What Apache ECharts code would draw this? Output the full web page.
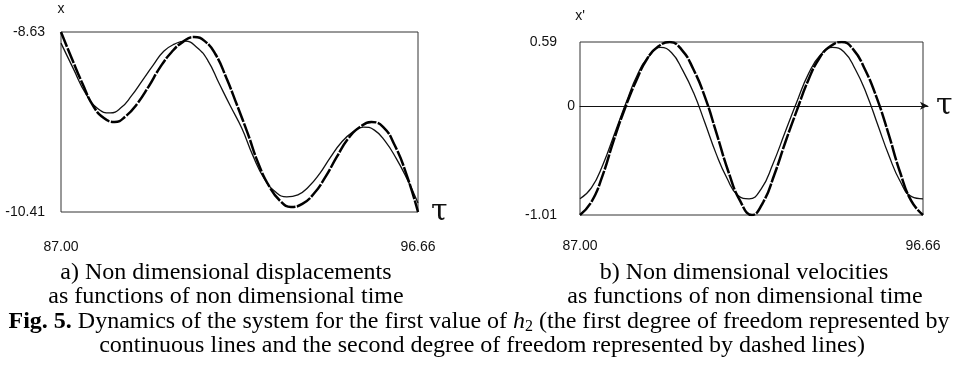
<!DOCTYPE html>
<html>
<head>
<meta charset="utf-8">
<script src="https://cdn.jsdelivr.net/npm/echarts@6/dist/echarts.min.js"></script>
<style>
  html, body { margin: 0; padding: 0; background: #fff; }
  #chart { width: 957px; height: 383px; }
</style>
</head>
<body>
<div id="chart"></div>
<script>
// tick labels
const timeTicks = [87.00, 96.66];
const dispTicks = [-10.41, -8.63];
const velTicks = [-1.01, 0.59];

// a) displacements, first degree of freedom (continuous line)
const dispFirstTau = [87.00, 87.33, 87.67, 88.00, 88.33, 88.62, 88.91, 89.20, 89.49, 89.78, 90.07, 90.36, 90.67, 90.97, 91.28, 91.58, 91.89, 92.19, 92.50, 92.80, 93.11, 93.41, 93.70, 94.00, 94.29, 94.59, 94.89, 95.18, 95.48, 95.77, 96.07, 96.36, 96.66];
const dispFirst = [-8.74, -8.99, -9.24, -9.39, -9.43, -9.38, -9.26, -9.11, -8.96, -8.82, -8.75, -8.72, -8.78, -8.91, -9.14, -9.36, -9.58, -9.85, -10.08, -10.21, -10.26, -10.24, -10.16, -10.03, -9.87, -9.72, -9.62, -9.57, -9.60, -9.71, -9.88, -10.08, -10.32];

// a) displacements, second degree of freedom (dashed line)
const dispSecondTau = [87.00, 87.29, 87.58, 87.87, 88.16, 88.45, 88.76, 89.06, 89.37, 89.68, 89.99, 90.29, 90.60, 90.89, 91.18, 91.47, 91.76, 92.05, 92.34, 92.64, 92.93, 93.22, 93.53, 93.84, 94.16, 94.47, 94.78, 95.09, 95.40, 95.72, 96.03, 96.35, 96.66];
const dispSecond = [-8.63, -8.89, -9.14, -9.36, -9.48, -9.52, -9.46, -9.34, -9.17, -8.98, -8.83, -8.73, -8.68, -8.72, -8.85, -9.08, -9.35, -9.63, -9.93, -10.16, -10.30, -10.36, -10.33, -10.23, -10.06, -9.86, -9.68, -9.57, -9.52, -9.57, -9.75, -10.04, -10.41];

// b) velocities, first degree of freedom (continuous line)
const velFirstTau = [87.00, 87.32, 87.65, 87.97, 88.30, 88.62, 88.95, 89.27, 89.58, 89.89, 90.20, 90.51, 90.83, 91.14, 91.45, 91.76, 92.10, 92.43, 92.77, 93.10, 93.44, 93.77, 94.11, 94.43, 94.75, 95.07, 95.39, 95.70, 96.02, 96.34, 96.66];
const velFirst = [-0.86, -0.76, -0.54, -0.26, 0.03, 0.29, 0.46, 0.54, 0.49, 0.33, 0.12, -0.15, -0.44, -0.67, -0.83, -0.86, -0.77, -0.54, -0.25, 0.03, 0.30, 0.47, 0.54, 0.50, 0.34, 0.11, -0.18, -0.46, -0.70, -0.84, -0.86];

// b) velocities, second degree of freedom (dashed line)
const velSecondTau = [87.00, 87.32, 87.63, 87.95, 88.27, 88.58, 88.90, 89.21, 89.53, 89.86, 90.19, 90.52, 90.85, 91.18, 91.51, 91.84, 92.16, 92.47, 92.79, 93.11, 93.42, 93.74, 94.05, 94.37, 94.70, 95.02, 95.35, 95.68, 96.01, 96.33, 96.66];
const velSecond = [-1.01, -0.89, -0.65, -0.32, -0.02, 0.23, 0.44, 0.55, 0.59, 0.52, 0.34, 0.08, -0.26, -0.61, -0.88, -1.01, -0.89, -0.64, -0.33, -0.04, 0.23, 0.44, 0.55, 0.59, 0.52, 0.34, 0.08, -0.25, -0.61, -0.88, -1.01];

const pairs = (xs, ys) => xs.map((x, i) => [x, ys[i]]);

const chart = echarts.init(document.getElementById('chart'), null, { renderer: 'canvas' });

const tickFont = { fontFamily: 'Liberation Sans', fontSize: 14, color: '#111' };
const tauName = { fontFamily: 'DejaVu Serif', fontSize: 30, color: '#111' };
const capFont = '24px "Liberation Serif"';

const timeAxis = (gridIndex, margin) => ({
    type: 'value',
    gridIndex: gridIndex,
    min: timeTicks[0],
    max: timeTicks[1],
    axisLine: { show: false },
    axisTick: { show: false },
    splitLine: { show: false },
    axisLabel: {
        ...tickFont,
        margin: margin,
        customValues: timeTicks,
        formatter: (v) => v.toFixed(2),
    },
    name: gridIndex === 0 ? 'τ' : '',
    nameLocation: 'end',
    nameGap: 13,
    nameTextStyle: tauName,
});

const solidStyle = { color: '#111', width: 1.3 };
const dashedStyle = { color: '#000', width: 2.5, type: [16, 1.5] };

const option = {
    animation: false,
    backgroundColor: '#fff',
    grid: [
        { left: 61, top: 32, width: 357, height: 180, show: true, borderColor: '#333', borderWidth: 1 },
        { left: 580, top: 42, width: 343, height: 173, show: true, borderColor: '#333', borderWidth: 1 },
        // zero line with arrow for the velocity plot
        { left: 580, top: 42, width: 348, height: 173, show: false },
    ],
    xAxis: [
        timeAxis(0, 28),
        timeAxis(1, 24),
        {
            type: 'value',
            gridIndex: 2,
            min: 0,
            max: 1,
            axisLine: {
                show: true,
                onZero: true,
                symbol: ['none', 'arrow'],
                symbolSize: [6, 8],
                lineStyle: { color: '#111', width: 1 },
            },
            axisTick: { show: false },
            axisLabel: { show: false },
            splitLine: { show: false },
            name: 'τ',
            nameLocation: 'end',
            nameGap: 8,
            nameTextStyle: tauName,
        },
    ],
    yAxis: [
        {
            type: 'value',
            gridIndex: 0,
            min: dispTicks[0],
            max: dispTicks[1],
            axisLine: { show: false },
            axisTick: { show: false },
            splitLine: { show: false },
            axisLabel: { ...tickFont, margin: 16, customValues: dispTicks, formatter: (v) => v.toFixed(2) },
            name: 'x',
            nameLocation: 'end',
            nameGap: 16,
            nameTextStyle: tickFont,
        },
        {
            type: 'value',
            gridIndex: 1,
            min: velTicks[0],
            max: velTicks[1],
            axisLine: { show: false },
            axisTick: { show: false },
            splitLine: { show: false },
            axisLabel: { ...tickFont, margin: 23, customValues: velTicks, formatter: (v) => v.toFixed(2) },
            name: "x'",
            nameLocation: 'end',
            nameGap: 19,
            nameTextStyle: tickFont,
        },
        {
            type: 'value',
            gridIndex: 2,
            min: velTicks[0],
            max: velTicks[1],
            axisLine: { show: false },
            axisTick: { show: false },
            splitLine: { show: false },
            axisLabel: { ...tickFont, margin: 5, customValues: [0], formatter: () => '0' },
        },
    ],
    series: [
        {
            type: 'line', xAxisIndex: 0, yAxisIndex: 0,
            data: pairs(dispFirstTau, dispFirst),
            showSymbol: false, smooth: 0.5,
            lineStyle: solidStyle,
        },
        {
            type: 'line', xAxisIndex: 0, yAxisIndex: 0,
            data: pairs(dispSecondTau, dispSecond),
            showSymbol: false, smooth: 0.5,
            lineStyle: dashedStyle,
        },
        {
            type: 'line', xAxisIndex: 1, yAxisIndex: 1,
            data: pairs(velFirstTau, velFirst),
            showSymbol: false, smooth: 0.5,
            lineStyle: solidStyle,
        },
        {
            type: 'line', xAxisIndex: 1, yAxisIndex: 1,
            data: pairs(velSecondTau, velSecond),
            showSymbol: false, smooth: 0.5,
            lineStyle: dashedStyle,
        },
    ],
    graphic: [
        { type: 'text', x: 226, y: 273, style: { text: 'a) Non dimensional displacements', font: capFont, fill: '#000', align: 'center', verticalAlign: 'middle' } },
        { type: 'text', x: 226, y: 297, style: { text: 'as functions of non dimensional time', font: capFont, fill: '#000', align: 'center', verticalAlign: 'middle' } },
        { type: 'text', x: 744, y: 273, style: { text: 'b) Non dimensional velocities', font: capFont, fill: '#000', align: 'center', verticalAlign: 'middle' } },
        { type: 'text', x: 745, y: 297, style: { text: 'as functions of non dimensional time', font: capFont, fill: '#000', align: 'center', verticalAlign: 'middle' } },
        {
            type: 'text', x: 479, y: 322,
            style: {
                text: '{b|Fig. 5.} Dynamics of the system for the first value of {i|h}{s|2} (the first degree of freedom represented by',
                font: capFont, fill: '#000', align: 'center', verticalAlign: 'middle',
                rich: {
                    b: { font: 'bold 24px "Liberation Serif"' },
                    i: { font: 'italic 24px "Liberation Serif"' },
                    s: { font: '16px "Liberation Serif"', padding: [10, 0, 0, 0] },
                },
            },
        },
        { type: 'text', x: 482, y: 346, style: { text: 'continuous lines and the second degree of freedom represented by dashed lines)', font: capFont, fill: '#000', align: 'center', verticalAlign: 'middle' } },
    ],
};

chart.setOption(option);
</script>
</body>
</html>
